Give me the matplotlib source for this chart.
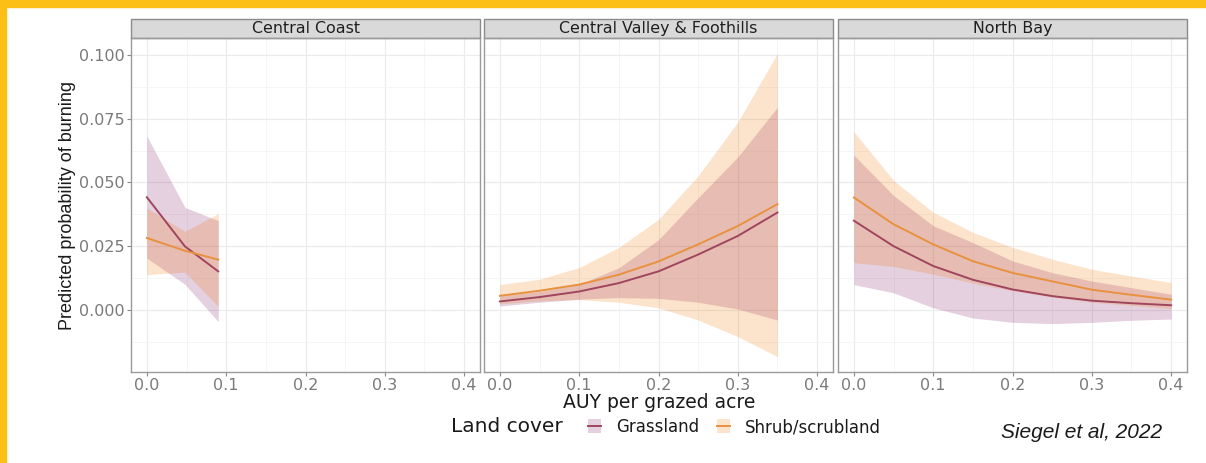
import numpy as np
import matplotlib.pyplot as plt
from matplotlib.patches import Rectangle, Patch
from matplotlib.lines import Line2D

# ---- data ----
regions = ["Central Coast", "Central Valley & Foothills", "North Bay"]

cc_x = [0.0, 0.048, 0.09]
cc_grass = [0.0442, 0.0249, 0.0151]
cc_grass_lo = [0.0203, 0.0100, -0.0046]
cc_grass_hi = [0.0682, 0.0402, 0.0350]
cc_shrub = [0.0282, 0.0232, 0.0197]
cc_shrub_lo = [0.0138, 0.0148, 0.0013]
cc_shrub_hi = [0.0400, 0.0308, 0.0378]

cv_x = [0.0, 0.05, 0.1, 0.15, 0.2, 0.25, 0.3, 0.35]
cv_grass = [0.0033, 0.0050, 0.0072, 0.0105, 0.0151, 0.0217, 0.0290, 0.0382]
cv_grass_lo = [0.0015, 0.0030, 0.0042, 0.0048, 0.0045, 0.0030, 0.0003, -0.0040]
cv_grass_hi = [0.0055, 0.0072, 0.0100, 0.0165, 0.0275, 0.0440, 0.0600, 0.0795]
cv_shrub = [0.0055, 0.0075, 0.0099, 0.0138, 0.0190, 0.0257, 0.0329, 0.0415]
cv_shrub_lo = [0.0024, 0.0035, 0.0040, 0.0030, 0.0008, -0.0040, -0.0105, -0.0184]
cv_shrub_hi = [0.0099, 0.0120, 0.0166, 0.0245, 0.0355, 0.0526, 0.0737, 0.1007]

nb_x = [0.0, 0.05, 0.1, 0.15, 0.2, 0.25, 0.3, 0.35, 0.4]
nb_grass = [0.0350, 0.0250, 0.0172, 0.0118, 0.0080, 0.0054, 0.0036, 0.0026, 0.0018]
nb_grass_lo = [0.0099, 0.0067, 0.0008, -0.0032, -0.0049, -0.0054, -0.0049, -0.0041, -0.0036]
nb_grass_hi = [0.0607, 0.0449, 0.0330, 0.0264, 0.0192, 0.0146, 0.0113, 0.0087, 0.0061]
nb_shrub = [0.0441, 0.0336, 0.0257, 0.0191, 0.0145, 0.0112, 0.0079, 0.0059, 0.0040]
nb_shrub_lo = [0.0185, 0.0170, 0.0140, 0.0105, 0.0075, 0.0050, 0.0030, 0.0018, 0.0005]
nb_shrub_hi = [0.0699, 0.0508, 0.0383, 0.0304, 0.0245, 0.0199, 0.0159, 0.0133, 0.0107]

panels = [
    (cc_x, cc_grass, cc_grass_lo, cc_grass_hi, cc_shrub, cc_shrub_lo, cc_shrub_hi),
    (cv_x, cv_grass, cv_grass_lo, cv_grass_hi, cv_shrub, cv_shrub_lo, cv_shrub_hi),
    (nb_x, nb_grass, nb_grass_lo, nb_grass_hi, nb_shrub, nb_shrub_lo, nb_shrub_hi),
]

xticks = [0.0, 0.1, 0.2, 0.3, 0.4]
yticks = [0.0, 0.025, 0.05, 0.075, 0.1]

grass_line = "#A0455E"
shrub_line = "#E8913F"
grass_fill = "#7D1464"
shrub_fill = "#F07300"
fill_alpha = 0.2

W, H = 1206, 463
fig = plt.figure(figsize=(W / 100, H / 100), dpi=100)
plt.rcParams["font.family"] = ["DejaVu Sans"]

# yellow frame
fig.patches.append(Rectangle((0, 1 - 7 / H), 1, 7 / H, transform=fig.transFigure,
                             color="#FBBF16", zorder=0))
fig.patches.append(Rectangle((0, 0), 6 / W, 1, transform=fig.transFigure,
                             color="#FBBF16", zorder=0))

lefts = [131, 484, 838]
pw = 349
top, bottom = 38, 372
strip_h = 19 / (bottom - top)

for i, (left, data) in enumerate(zip(lefts, panels)):
    x, g, glo, ghi, s, slo, shi = data
    ax = fig.add_axes([left / W, 1 - bottom / H, pw / W, (bottom - top) / H])
    ax.set_xlim(-0.02, 0.42)
    ax.set_ylim(-0.0244, 0.1067)

    ax.fill_between(x, glo, ghi, color=grass_fill, alpha=fill_alpha, lw=0)
    ax.fill_between(x, slo, shi, color=shrub_fill, alpha=fill_alpha, lw=0)
    ax.plot(x, g, color=grass_line, lw=1.4)
    ax.plot(x, s, color=shrub_line, lw=1.4)

    ax.set_xticks(xticks)
    ax.set_xticks([0.05, 0.15, 0.25, 0.35], minor=True)
    ax.set_yticks(yticks)
    ax.set_yticks([-0.0125, 0.0125, 0.0375, 0.0625, 0.0875], minor=True)
    ax.grid(which="major", color="#EBEBEB", lw=0.8)
    ax.grid(which="minor", color="#F4F4F4", lw=0.6)
    ax.set_axisbelow(True)
    ax.set_xticklabels(["0.0", "0.1", "0.2", "0.3", "0.4"])
    ax.tick_params(which="minor", length=0)
    ax.tick_params(which="major", length=3, color="#8C8C8C", labelcolor="#7A7A7A",
                   labelsize=11.5, pad=1.5)
    if i == 0:
        ax.set_yticklabels(["0.000", "0.025", "0.050", "0.075", "0.100"])
    else:
        ax.tick_params(axis="y", length=0, labelleft=False)
    for sp in ax.spines.values():
        sp.set_color("#9A9A9A")
        sp.set_linewidth(1.0)

    ax.add_patch(Rectangle((0, 1), 1, strip_h, transform=ax.transAxes, clip_on=False,
                           facecolor="#D9D9D9", edgecolor="#8C8C8C", lw=1.0))
    ax.text(0.5, 1 + strip_h / 2, regions[i], transform=ax.transAxes, ha="center",
            va="center", fontsize=11.4, color="#1F1F1F")

fig.text(68 / W, 1 - 205 / H, "Predicted probability of burning", rotation=90,
         ha="center", va="center", fontsize=13, family=["Liberation Sans"], color="#1A1A1A")
fig.text(659 / W, 1 - 403 / H, "AUY per grazed acre", ha="center", va="center",
         fontsize=13.5, color="#1A1A1A")

fig.text(451 / W, 1 - 426 / H, "Land cover", ha="left", va="center", fontsize=14.5,
         color="#1A1A1A")
handles = [
    (Patch(facecolor=grass_fill, alpha=fill_alpha, lw=0), Line2D([], [], color=grass_line, lw=1.4)),
    (Patch(facecolor=shrub_fill, alpha=fill_alpha, lw=0), Line2D([], [], color=shrub_line, lw=1.4)),
]
fig.legend(handles, ["Grassland", "Shrub/scrubland"], loc="center left",
           bbox_to_anchor=(580 / W, 1 - 427 / H), ncol=2, frameon=False, borderpad=0,
           handlelength=0.75, handleheight=0.9, handletextpad=0.9, columnspacing=1.1,
           prop={"size": 12}, labelcolor="#1A1A1A")

fig.text(1162 / W, 1 - 433 / H, "Siegel et al, 2022", ha="right", va="center",
         fontsize=15, style="italic", family=["Liberation Sans"], color="#1A1A1A")

fig.savefig("out.png", dpi=100)
